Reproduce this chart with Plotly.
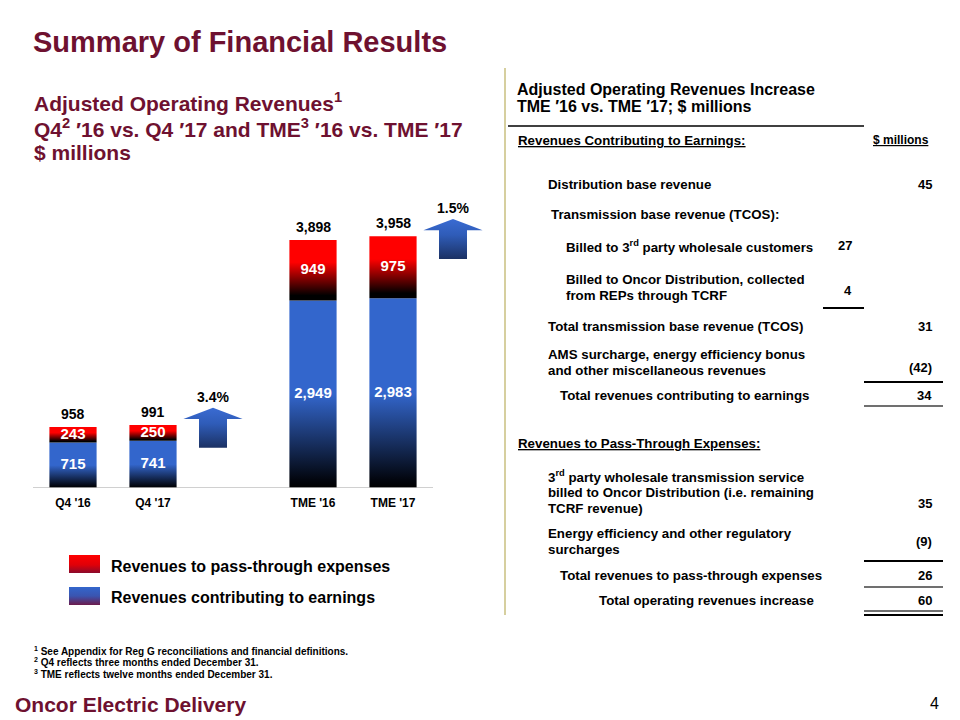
import plotly.graph_objects as go

# ---------------- data ----------------
categories = ["Q4 '16", "Q4 '17", "TME '16", "TME '17"]
earnings = [715, 741, 2949, 2983]          # revenues contributing to earnings
passthrough = [243, 250, 949, 975]         # revenues to pass-through expenses
cat_pos = [0, 1, 3, 4]
compare_pairs = [(0, 1), (2, 3)]

legend_labels = ["Revenues to pass-through expenses", "Revenues contributing to earnings"]

table_lines = [
    "<u>Revenues Contributing to Earnings:</u>",
    "Distribution base revenue",
    "Transmission base revenue (TCOS):",
    "Billed to 3<sup>rd</sup> party wholesale customers",
    "Billed to Oncor Distribution, collected",
    "from REPs through TCRF",
    "Total transmission base revenue (TCOS)",
    "AMS surcharge, energy efficiency bonus",
    "and other miscellaneous revenues",
    "Total revenues contributing to earnings",
    "<u>Revenues to Pass-Through Expenses:</u>",
    "3<sup>rd</sup> party wholesale transmission service",
    "billed to Oncor Distribution (i.e. remaining",
    "TCRF revenue)",
    "Energy efficiency and other regulatory",
    "surcharges",
    "Total revenues to pass-through expenses",
    "Total operating revenues increase",
]
table_values = [45, 27, 4, 31, -42, 34, 35, -9, 26, 60]

footnotes = [
    "<sup>1</sup> See Appendix for Reg G reconciliations and financial definitions.",
    "<sup>2</sup> Q4 reflects three months ended December 31.",
    "<sup>3</sup> TME reflects twelve months ended December 31.",
]

# ---------------- layout constants ----------------
FONT = "Arial, 'Liberation Sans', sans-serif"
MAROON = "#6e1130"
W = 0.59
BLUE_CS = [[0, "#000000"], [0.04, "#02050d"], [0.5, "#3366CC"], [1, "#3366CC"]]
RED_CS = [[0, "#000000"], [0.08, "#000000"], [0.63, "#FF0000"], [1, "#FF0000"]]
ARROW_CS = [[0, "#1b3163"], [0.6, "#2f5cb8"], [1, "#3a6bd2"]]
OFF = 8  # page body margin offset (px)


def PX(x):
    return (x - OFF) / 960


def PY(y):
    return 1 - (y - OFF) / 720


fig = go.Figure()


def rect_trace(x0, x1, y0, y1, cs, xa="x", ya="y"):
    fig.add_trace(go.Scatter(
        x=[x0, x1, x1, x0, x0], y=[y0, y0, y1, y1, y0],
        mode="lines", line=dict(width=0), fill="toself",
        fillgradient=dict(type="vertical", colorscale=cs),
        hoverinfo="skip", showlegend=False, xaxis=xa, yaxis=ya))


totals = [e + p for e, p in zip(earnings, passthrough)]

for x, e, p in zip(cat_pos, earnings, passthrough):
    rect_trace(x - W / 2, x + W / 2, 0, e, BLUE_CS)
    rect_trace(x - W / 2, x + W / 2, e, e + p, RED_CS)

# inside labels
fig.add_trace(go.Scatter(
    x=cat_pos + cat_pos,
    y=[e / 2 for e in earnings] + [e + p / 2 for e, p in zip(earnings, passthrough)],
    text=[f"{v:,}" for v in earnings] + [f"{v:,}" for v in passthrough],
    mode="text", textfont=dict(family=FONT, size=15, color="white", weight="bold"),
    hoverinfo="skip", showlegend=False))

# totals above bars
for x, t in zip(cat_pos, totals):
    fig.add_annotation(x=x, y=t, xref="x", yref="y", text=f"{t:,}", showarrow=False,
                       yanchor="bottom", yshift=3,
                       font=dict(family=FONT, size=14, color="black", weight="bold"))

# growth arrows
for a, b in compare_pairs:
    xc = cat_pos[b] + 0.75
    top = totals[b] + 270
    bot = top - 630
    hb = top - 175
    hw, sw = 0.37, 0.175
    fig.add_trace(go.Scatter(
        x=[xc - hw, xc, xc + hw, xc + sw, xc + sw, xc - sw, xc - sw, xc - hw],
        y=[hb, top, hb, hb, bot, bot, hb, hb],
        mode="lines", line=dict(width=0), fill="toself",
        fillgradient=dict(type="vertical", colorscale=ARROW_CS),
        hoverinfo="skip", showlegend=False))
    pct = (totals[b] - totals[a]) / totals[a] * 100
    fig.add_annotation(x=xc, y=top, xref="x", yref="y", text=f"{pct:.1f}%", showarrow=False,
                       yanchor="bottom", yshift=1,
                       font=dict(family=FONT, size=14, color="black", weight="bold"))

# baseline
fig.add_shape(type="line", xref="x", yref="y", x0=-0.5, x1=4.5, y0=0, y1=0,
              line=dict(color="#c0c0c0", width=1.5))

# legend swatches (pixel overlay axes; value = 720 - screen y)
LEG_RED = [[0, "#8a0a2c"], [0.45, "#e00008"], [1, "#ff0000"]]
LEG_BLUE = [[0, "#6b1a4c"], [0.5, "#3a55b0"], [1, "#3366CC"]]
rect_trace(69, 100, 720 - 573, 720 - 555, LEG_RED, "x2", "y2")
rect_trace(69, 100, 720 - 605, 720 - 587, LEG_BLUE, "x2", "y2")


def txt(s, x, y, size, color="black", bold=True, xanchor="left"):
    fig.add_annotation(x=PX(x), y=PY(y), xref="paper", yref="paper", text=s,
                       showarrow=False, xanchor=xanchor, yanchor="middle",
                       font=dict(family=FONT, size=size, color=color,
                                 weight="bold" if bold else "normal"))


def hline(x0, x1, y, color, width):
    fig.add_shape(type="line", xref="paper", yref="paper", x0=PX(x0), x1=PX(x1),
                  y0=PY(y), y1=PY(y), line=dict(color=color, width=width))


# titles
txt("Summary of Financial Results", 31, 42, 29, MAROON)
txt("Adjusted Operating Revenues<sup>1</sup>", 32, 102, 21, MAROON)
txt("Q4<sup>2</sup> ′16 vs. Q4 ′17 and TME<sup>3</sup> ′16 vs. TME ′17", 32, 128, 21, MAROON)
txt("$ millions", 32, 153, 21, MAROON)

# legend labels
txt(legend_labels[0], 109, 566, 16)
txt(legend_labels[1], 109, 597, 16)

# footnotes
for s, y in zip(footnotes, [651, 662, 674]):
    txt(s, 32, y, 10)

# footer
txt("Oncor Electric Delivery", 13, 704, 21, MAROON)
txt("4", 941, 703, 16, bold=False, xanchor="right")

# right panel
fig.add_shape(type="line", xref="paper", yref="paper", x0=PX(505), x1=PX(505),
              y0=PY(68), y1=PY(615), line=dict(color="#d6cf9f", width=2))
txt("Adjusted Operating Revenues Increase", 515, 89, 16)
txt("TME ′16 vs. TME ′17; $ millions", 515, 107, 16)
hline(508, 864, 126, "black", 1.5)
txt("<u>$ millions</u>", 931, 140, 12, xanchor="right")

line_x = [516, 546, 549, 564, 564, 564, 546, 546, 546, 558, 516, 546, 546, 546, 546, 546, 558, 597]
line_y = [140, 184, 215, 247, 279, 295, 326, 354, 370, 395, 443, 476, 492, 508, 533, 549, 575, 600]
for s, x, y in zip(table_lines, line_x, line_y):
    txt(s, x, y, 13.3)

val_x = [934, 854, 854, 934, 934, 934, 934, 934, 934, 934]
val_y = [184, 246, 291, 326, 367, 395, 503, 541, 575, 600]
for v, x, y in zip(table_values, val_x, val_y):
    s = f"({-v})" if v < 0 else f"{v}"
    txt(s, x, y, 13, xanchor="right")

rules = [  # x0, x1, y, color
    (823, 864, 308, "black"), (864, 943, 382, "black"), (864, 943, 406, "#707070"),
    (864, 943, 561, "black"), (864, 943, 587, "#707070"),
    (864, 943, 611, "#707070"), (864, 943, 615, "black"),
]
for x0, x1, y, c in rules:
    hline(x0, x1, y, c, 1.8)

ymax = 288 / 0.06362
fig.update_layout(
    width=960, height=720, margin=dict(l=0, r=0, t=0, b=0),
    paper_bgcolor="white", plot_bgcolor="rgba(0,0,0,0)",
    showlegend=False,
    xaxis=dict(domain=[PX(33), PX(513)], range=[-0.5, 5.5], showgrid=False,
               zeroline=False, showline=False, tickvals=cat_pos, ticktext=categories,
               ticks="", ticklabelstandoff=6,
               tickfont=dict(family=FONT, size=12, color="black", weight="bold"),
               fixedrange=True),
    yaxis=dict(domain=[PY(488), PY(200)], range=[0, ymax], visible=False,
               fixedrange=True),
    xaxis2=dict(domain=[0, 1], range=[OFF, 960 + OFF], visible=False, anchor="y2",
                fixedrange=True),
    yaxis2=dict(domain=[0, 1], range=[-OFF, 720 - OFF], visible=False, anchor="x2",
                fixedrange=True),
)

fig.write_html("out.html")
